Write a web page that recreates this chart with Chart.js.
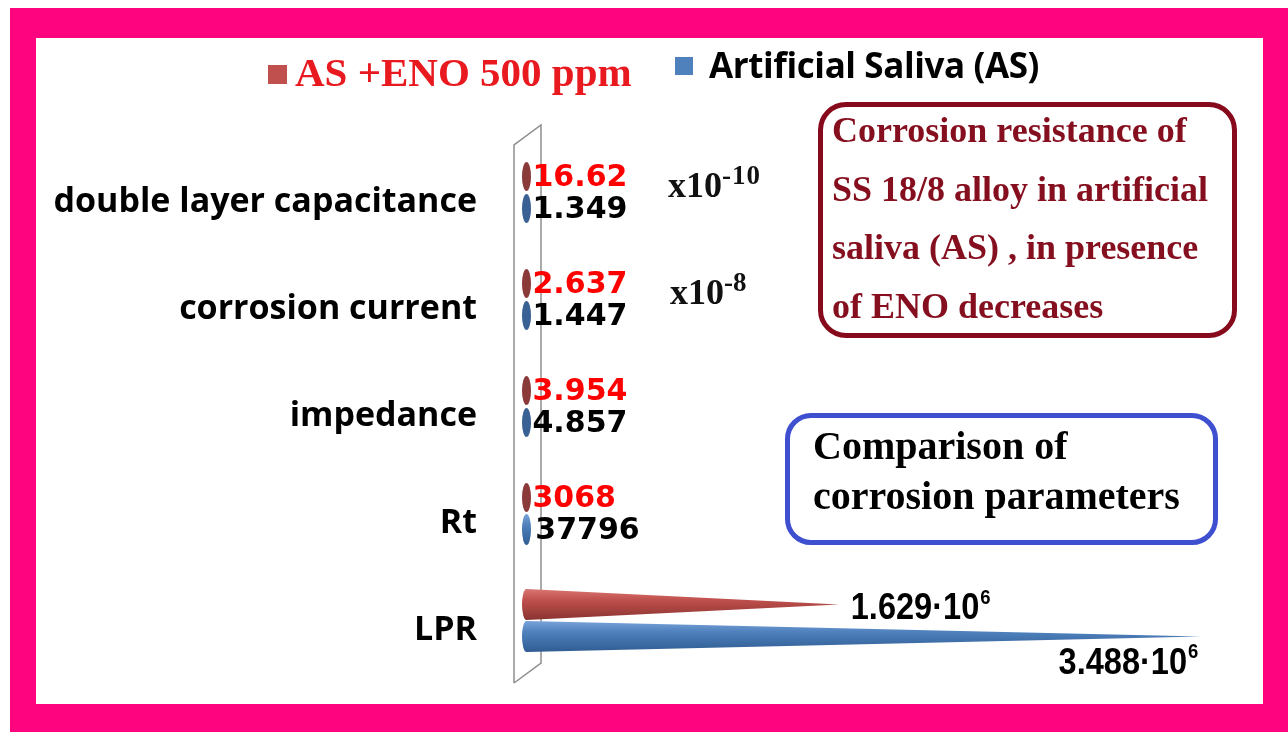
<!DOCTYPE html>
<html>
<head>
<meta charset="utf-8">
<script src="https://cdn.jsdelivr.net/npm/chart.js@4.4.1/dist/chart.umd.min.js"></script>
<style>
  body { margin: 0; background: #fff; width: 1288px; height: 732px; overflow: hidden; position: relative; }
  .abs { position: absolute; white-space: nowrap; }
  #frame { left: 10px; top: 8px; width: 1278px; height: 724px; background: #FE047F; }
  #inner { left: 36px; top: 38px; width: 1227px; height: 666px; background: #fff; }
  #wrap { left: 0; top: 0; width: 1288px; height: 732px; }
  .serif { font-family: "Liberation Serif", "Times New Roman", serif; font-weight: bold; }
  .sans { font-family: "Open Sans", Lato, sans-serif; font-weight: 700; }
  .box { box-sizing: border-box; border-radius: 28px; }
</style>
</head>
<body>
<div class="abs" id="frame"></div>
<div class="abs" id="inner"></div>
<div class="abs" id="wrap"><canvas id="chart"></canvas></div>

<!-- legend -->
<div class="abs" style="left:268px;top:65px;width:19px;height:19px;background:#C0504D;"></div>
<div class="abs serif" style="left:295px;top:52px;font-size:41px;line-height:41px;color:#E8191F;">AS +ENO 500 ppm</div>
<div class="abs" style="left:675px;top:57px;width:18px;height:18px;background:#4F81BD;"></div>
<div class="abs sans" style="left:709px;top:45px;font-size:35px;line-height:40px;color:#000;letter-spacing:-0.4px;">Artificial Saliva (AS)</div>

<!-- multipliers -->
<div class="abs serif" style="left:668px;top:167px;font-size:36px;line-height:36px;color:#111;">x10<span style="font-size:27px;position:relative;top:-13px;letter-spacing:1px;">-10</span></div>
<div class="abs serif" style="left:670px;top:274px;font-size:36px;line-height:36px;color:#111;">x10<span style="font-size:27px;position:relative;top:-13px;">-8</span></div>

<!-- notes -->
<div class="abs box" style="left:818px;top:102px;width:419px;height:236px;border:5px solid #860A1C;"></div>
<div class="abs serif" style="left:832px;top:101px;font-size:36px;line-height:58.5px;color:#850F1E;">Corrosion resistance of<br>SS 18/8 alloy in artificial<br>saliva (AS) , in presence<br>of ENO decreases</div>
<div class="abs box" style="left:785px;top:413px;width:433px;height:132px;border:5px solid #3E4FD0;border-radius:26px;"></div>
<div class="abs serif" style="left:813px;top:421px;font-size:40px;line-height:50px;color:#000;">Comparison of<br>corrosion parameters</div>

<script>
// ==================== DATA ====================
const categories = ['double layer capacitance', 'corrosion current', 'impedance', 'Rt', 'LPR'];
const enoName = 'AS +ENO 500 ppm';
const asName = 'Artificial Saliva (AS)';
const enoValues = [16.62e-10, 2.637e-8, 3.954, 3068, 1.629e6];
const asValues = [1.349e-10, 1.447e-8, 4.857, 37796, 3.488e6];
// "^" marks a superscript part
const enoLabels = ['16.62', '2.637', '3.954', '3068', '1.629·10^6'];
const asLabels = ['1.349', '1.447', '4.857', '37796', '3.488·10^6'];
const xMax = 3.6e6;

const palette = {
  eno: { top: '#D97672', mid: '#C0504D', bot: '#8A3431', base: '#8B3A3A', text: '#FF0000' },
  as: { top: '#79A3D8', mid: '#4F81BD', bot: '#2F5C92', base: '#3A6194', text: '#000000' }
};

// back wall of the 3D plot
function drawWall(chart) {
  const { ctx, chartArea: a } = chart;
  ctx.save();
  ctx.strokeStyle = '#8e8e8e';
  ctx.lineWidth = 1.5;
  ctx.beginPath();
  ctx.moveTo(a.left - 8, a.bottom + 9);
  ctx.lineTo(a.left - 8, a.top + 6);
  ctx.lineTo(a.left + 19, a.top - 14);
  ctx.lineTo(a.left + 19, a.bottom - 11);
  ctx.lineTo(a.left - 8, a.bottom + 9);
  ctx.stroke();
  ctx.restore();
}

// condensed text with a superscript tail, e.g. 1.629·10^6
function drawSupText(ctx, str, x, y, size, align) {
  const [main, sup] = str.split('^');
  const squeeze = 0.88;
  const fam = '"Liberation Sans", Arial, sans-serif';
  const mainFont = `bold ${size}px ${fam}`;
  const supFont = `bold ${Math.round(size * 0.58)}px ${fam}`;
  ctx.font = mainFont;
  const w1 = ctx.measureText(main).width;
  ctx.font = supFont;
  const w2 = sup ? ctx.measureText(sup).width : 0;
  const total = (w1 + w2 + 1) * squeeze;
  const start = align === 'right' ? x - total : x;
  ctx.save();
  ctx.translate(start, y);
  ctx.scale(squeeze, 1);
  ctx.textAlign = 'left';
  ctx.textBaseline = 'alphabetic';
  ctx.font = mainFont;
  ctx.fillText(main, 0, 0);
  if (sup) {
    ctx.font = supFont;
    ctx.fillText(sup, w1 + 1, -size * 0.42);
  }
  ctx.restore();
}

const conePlugin = {
  id: 'cones',
  beforeDatasetsDraw(chart) {
    drawWall(chart);
  },
  afterDatasetsDraw(chart) {
    const ctx = chart.ctx;
    chart.data.datasets.forEach((ds, di) => {
      const col = di === 0 ? palette.eno : palette.as;
      const labels = di === 0 ? enoLabels : asLabels;
      const meta = chart.getDatasetMeta(di);
      meta.data.forEach((bar, i) => {
        const { x, y, base, height } = bar.getProps(['x', 'y', 'base', 'height'], true);
        const h = height / 2 - 0.5;
        const rx = 4.5;
        ctx.save();
        if (x - base > rx + 1) {
          const g = ctx.createLinearGradient(0, y - h, 0, y + h);
          g.addColorStop(0, col.top);
          g.addColorStop(0.35, col.mid);
          g.addColorStop(1, col.bot);
          ctx.fillStyle = g;
          ctx.beginPath();
          ctx.moveTo(base + rx, y - h);
          ctx.lineTo(x, y);
          ctx.lineTo(base + rx, y + h);
          ctx.closePath();
          ctx.fill();
          ctx.beginPath();
          ctx.ellipse(base + rx, y, rx, h, 0, 0, Math.PI * 2);
          ctx.fill();
        } else {
          const hs = h - 1;
          ctx.fillStyle = col.base;
          ctx.beginPath();
          ctx.ellipse(base + rx, y, rx, hs, 0, 0, Math.PI * 2);
          ctx.fill();
          if (x > base + rx) {
            ctx.beginPath();
            ctx.moveTo(base + rx, y - hs * 0.8);
            ctx.lineTo(x + 1, y);
            ctx.lineTo(base + rx, y + hs * 0.8);
            ctx.fill();
          }
        }
        // value labels
        const txt = labels[i];
        if (txt.includes('^')) {
          ctx.fillStyle = '#000';
          if (di === 0) drawSupText(ctx, txt, x + 12, y + 15, 37, 'left');
          else drawSupText(ctx, txt, x - 2, y + 37, 37, 'right');
        } else {
          ctx.fillStyle = col.text;
          ctx.font = 'bold 30px "DejaVu Sans", Verdana, sans-serif';
          ctx.textAlign = 'left';
          ctx.textBaseline = 'middle';
          ctx.fillText(txt, Math.max(x, base + rx) + 6, y + 2);
        }
        ctx.restore();
      });
    });
  }
};

new Chart(document.getElementById('chart'), {
  type: 'bar',
  data: {
    labels: categories,
    datasets: [
      { label: enoName, data: enoValues, backgroundColor: 'rgba(0,0,0,0)', borderWidth: 0 },
      { label: asName, data: asValues, backgroundColor: 'rgba(0,0,0,0)', borderWidth: 0 }
    ]
  },
  options: {
    indexAxis: 'y',
    responsive: true,
    maintainAspectRatio: false,
    animation: false,
    events: [],
    layout: { padding: { left: 36, right: 66, top: 139, bottom: 58 } },
    datasets: { bar: { categoryPercentage: 0.6, barPercentage: 1 } },
    plugins: { legend: { display: false }, tooltip: { enabled: false } },
    scales: {
      x: { display: false, min: 0, max: xMax },
      y: {
        afterFit: (scale) => {
          scale.width = 486;
          scale.paddingTop = 0;
          scale.paddingBottom = 0;
        },
        grid: { display: false, drawTicks: false },
        border: { display: false },
        ticks: {
          padding: 45,
          labelOffset: 10,
          color: '#000',
          font: { family: '"Open Sans", Lato, sans-serif', weight: 'bold', size: 34 }
        }
      }
    }
  },
  plugins: [conePlugin]
});
</script>
</body>
</html>
